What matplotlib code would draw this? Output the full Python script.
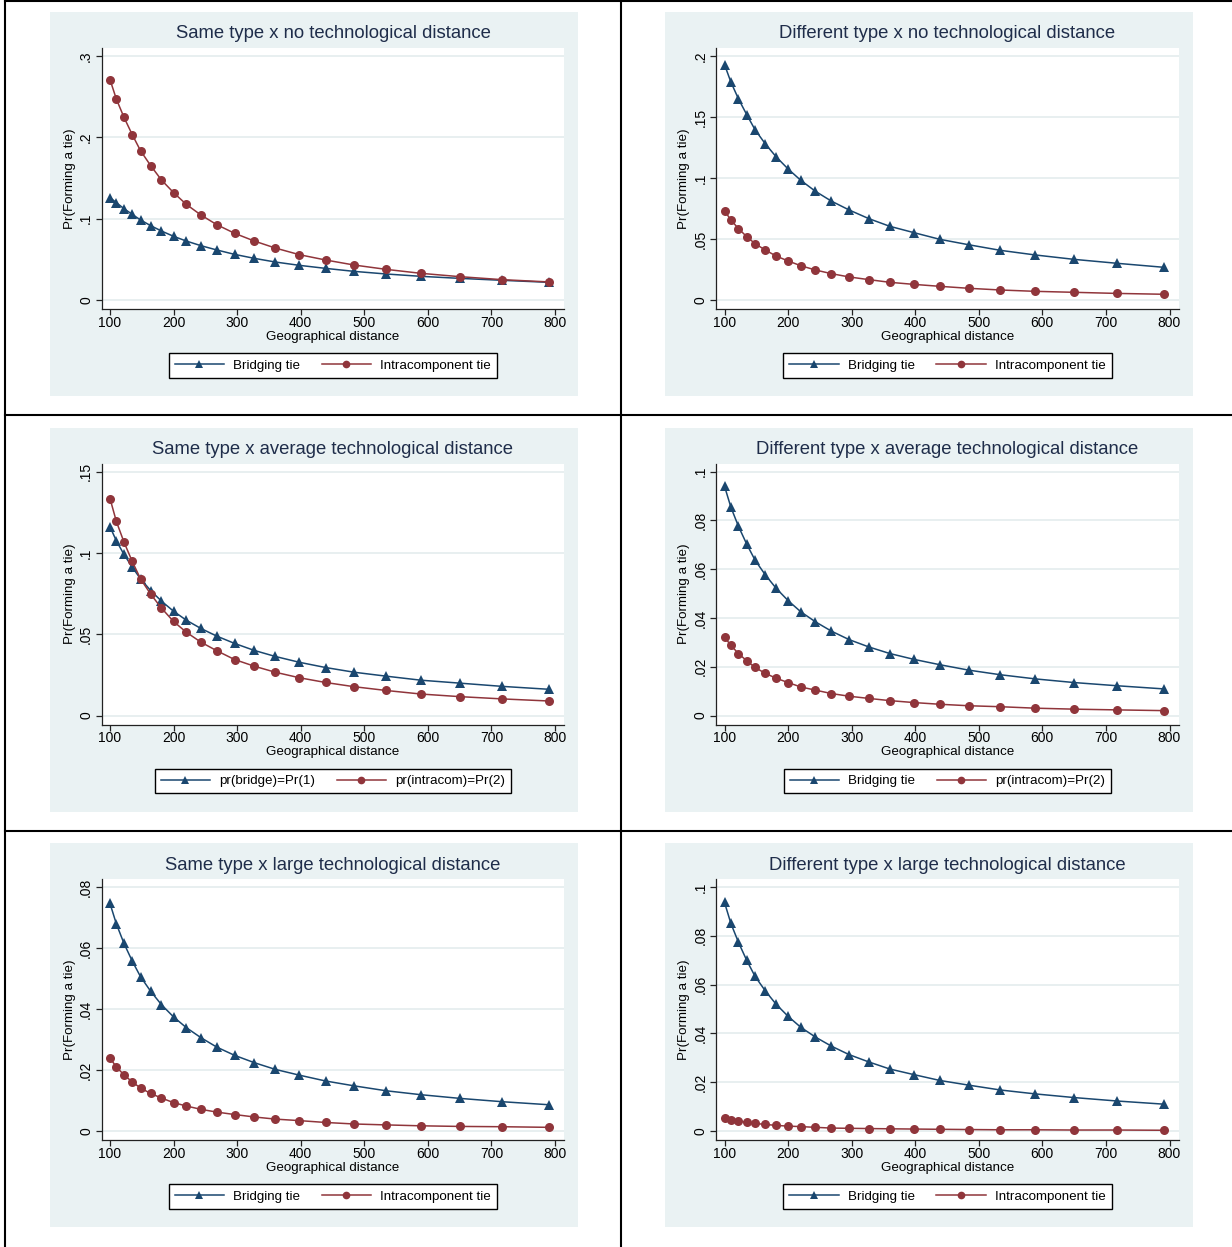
import matplotlib
matplotlib.use("Agg")
import matplotlib.pyplot as plt
from matplotlib.patches import Rectangle
from matplotlib.lines import Line2D

plt.rcParams['font.family'] = ['Liberation Sans', 'DejaVu Sans']

# geographical distance (x) shared by all panels
dist = [100, 110, 122, 135, 148, 164, 181, 200, 220, 243, 268, 296, 327, 360,
        398, 439, 484, 534, 589, 650, 717, 791]

# Pr(forming a tie)
bridge_same_none = [0.126, 0.1197, 0.1123, 0.1053, 0.0984, 0.0914, 0.0848, 0.0783, 0.0725, 0.0668, 0.0615,
                    0.0561, 0.0512, 0.0467, 0.0426, 0.0389, 0.0352, 0.032, 0.0291, 0.0266, 0.0242, 0.0217]
intra_same_none = [0.271, 0.247, 0.2246, 0.2033, 0.1836, 0.1652, 0.1475, 0.132, 0.1176, 0.1045, 0.0926,
                   0.082, 0.0725, 0.0639, 0.0557, 0.0492, 0.043, 0.0377, 0.0328, 0.0287, 0.025, 0.0222]
bridge_diff_none = [0.193, 0.1787, 0.1648, 0.1519, 0.1396, 0.1281, 0.1175, 0.1074, 0.0981, 0.0891, 0.0811,
                    0.0738, 0.0667, 0.0604, 0.0552, 0.0497, 0.0453, 0.0407, 0.0369, 0.0333, 0.0301, 0.0268]
intra_diff_none = [0.0732, 0.0656, 0.0585, 0.0519, 0.0462, 0.041, 0.0361, 0.032, 0.0281, 0.0246, 0.0216,
                   0.0189, 0.0167, 0.0145, 0.0128, 0.0112, 0.0096, 0.0082, 0.0071, 0.0063, 0.0054, 0.0047]
bridge_same_avg = [0.116, 0.1074, 0.099, 0.0912, 0.084, 0.0768, 0.0703, 0.0641, 0.0586, 0.0535, 0.0488,
                   0.0443, 0.04, 0.0363, 0.0327, 0.0295, 0.0266, 0.0242, 0.0217, 0.0199, 0.0179, 0.0161]
intra_same_avg = [0.1334, 0.1193, 0.1066, 0.0947, 0.084, 0.0746, 0.066, 0.0578, 0.0512, 0.0451, 0.0398,
                  0.0344, 0.0303, 0.0266, 0.0232, 0.0203, 0.0177, 0.0154, 0.0132, 0.0116, 0.0102, 0.0089]
bridge_diff_avg = [0.094, 0.0854, 0.0775, 0.0702, 0.0637, 0.0577, 0.0522, 0.0471, 0.0425, 0.0384, 0.0346,
                   0.0311, 0.0281, 0.0254, 0.023, 0.0208, 0.0186, 0.0167, 0.015, 0.0135, 0.0122, 0.0109]
intra_diff_avg = [0.0322, 0.0287, 0.0254, 0.0224, 0.0197, 0.0173, 0.0153, 0.0135, 0.0117, 0.0104, 0.009,
                  0.0079, 0.007, 0.0061, 0.0053, 0.0046, 0.004, 0.0036, 0.003, 0.0026, 0.0023, 0.002]
bridge_same_large = [0.0746, 0.0679, 0.0615, 0.0557, 0.0506, 0.0458, 0.0414, 0.0374, 0.0339, 0.0306, 0.0275,
                     0.0248, 0.0224, 0.0202, 0.0183, 0.0164, 0.0148, 0.0132, 0.0119, 0.0107, 0.0096, 0.0086]
intra_same_large = [0.0239, 0.021, 0.0184, 0.0161, 0.0141, 0.0123, 0.0108, 0.0093, 0.0082, 0.0071, 0.0062,
                    0.0054, 0.0046, 0.0039, 0.0034, 0.0028, 0.0023, 0.002, 0.0017, 0.0015, 0.0014, 0.0012]
bridge_diff_large = [0.0937, 0.0851, 0.0773, 0.0699, 0.0634, 0.0575, 0.052, 0.047, 0.0425, 0.0385, 0.0348,
                     0.0313, 0.0283, 0.0254, 0.0231, 0.0207, 0.0188, 0.0168, 0.0152, 0.0137, 0.0123, 0.011]
intra_diff_large = [0.0053, 0.0046, 0.0041, 0.0036, 0.0031, 0.0027, 0.0023, 0.002, 0.0018, 0.0015, 0.0012,
                    0.0011, 0.001, 0.0009, 0.0008, 0.0007, 0.0006, 0.0005, 0.0005, 0.0004, 0.0004, 0.0003]

titles = ["Same type x no technological distance", "Different type x no technological distance",
          "Same type x average technological distance", "Different type x average technological distance",
          "Same type x large technological distance", "Different type x large technological distance"]
series = [(bridge_same_none, intra_same_none), (bridge_diff_none, intra_diff_none),
          (bridge_same_avg, intra_same_avg), (bridge_diff_avg, intra_diff_avg),
          (bridge_same_large, intra_same_large), (bridge_diff_large, intra_diff_large)]
yticks = [[0, 0.1, 0.2, 0.3], [0, 0.05, 0.1, 0.15, 0.2],
          [0, 0.05, 0.1, 0.15], [0, 0.02, 0.04, 0.06, 0.08, 0.1],
          [0, 0.02, 0.04, 0.06, 0.08], [0, 0.02, 0.04, 0.06, 0.08, 0.1]]
legend_labels = [("Bridging tie", "Intracomponent tie"), ("Bridging tie", "Intracomponent tie"),
                 ("pr(bridge)=Pr(1)", "pr(intracom)=Pr(2)"), ("Bridging tie", "pr(intracom)=Pr(2)"),
                 ("Bridging tie", "Intracomponent tie"), ("Bridging tie", "Intracomponent tie")]
xticks = [100, 200, 300, 400, 500, 600, 700, 800]

NAVY = '#1a476f'
MAROON = '#90353b'
BG = '#eaf2f3'
GRID = '#e4ecee'
TITLE = '#1f2d4a'

W, H = 1232, 1247
fig = plt.figure(figsize=(W / 100, H / 100), dpi=100)
fig.patch.set_facecolor('white')


def fx(px):
    return px / W


def fy(py):
    return 1 - py / H


def fmt(v):
    if v == 0:
        return "0"
    return ("%g" % v).lstrip("0")


for i, title in enumerate(titles):
    r, c = divmod(i, 2)
    dx = c * 614.5
    dy = r * 415.5
    fig.patches.append(Rectangle((fx(50 + dx), fy(396 + dy)), 528 / W, 384 / H,
                                 transform=fig.transFigure, facecolor=BG, edgecolor='none', zorder=-5))
    ax = fig.add_axes([fx(101.5 + dx), fy(309 + dy), 462.5 / W, 261 / H])
    ax.set_zorder(2)
    ax.set_facecolor('white')
    b, it = series[i]
    l1, = ax.plot(dist, b, color=NAVY, lw=1.1, marker='^', ms=7, mew=0, zorder=3)
    l2, = ax.plot(dist, it, color=MAROON, lw=1.1, marker='o', ms=6.5, mew=0, zorder=3)
    top = yticks[i][-1]
    ax.set_ylim(-top * 9 / 244, top * (1 + 8 / 244))
    ax.set_xlim(100 - 8.5 * 700 / 445, 800 + 9 * 700 / 445)
    ax.set_yticks(yticks[i])
    ax.set_yticklabels([fmt(t) for t in yticks[i]], rotation=90, va='center')
    ax.set_xticks(xticks)
    ax.set_xticklabels([str(t) for t in xticks])
    ax.tick_params(labelsize=10, length=4, width=0.9, color='#222222', pad=2)
    ax.tick_params(axis='x', pad=0.8)
    ax.grid(axis='y', color=GRID, lw=1.2)
    ax.set_axisbelow(True)
    for s in ('top', 'right'):
        ax.spines[s].set_visible(False)
    for s in ('left', 'bottom'):
        ax.spines[s].set_color('#222222')
        ax.spines[s].set_linewidth(0.9)

    fig.text(fx(333 + dx), fy(34 + dy), title, ha='center', va='center', fontsize=13.3, color=TITLE)
    fig.text(fx(333 + dx), fy(337 + dy), "Geographical distance", ha='center', va='center', fontsize=9.6)
    fig.text(fx(70 + dx), fy(178.5 + dy), "Pr(Forming a tie)", ha='center', va='center',
             rotation=90, fontsize=9.6)
    leg = ax.legend([l1, l2], legend_labels[i], ncol=2, loc='center',
                    bbox_to_anchor=(fx(333 + dx), fy(365.5 + dy)), bbox_transform=fig.transFigure,
                    fontsize=9.6, frameon=True, fancybox=False, edgecolor='black', framealpha=1,
                    handlelength=3.7, handletextpad=0.7, columnspacing=1.6, borderpad=0.45,
                    numpoints=1, markerscale=0.85)
    leg.get_frame().set_linewidth(1.0)

# table frame lines around the panels
frame = dict(color='black', lw=1.5, transform=fig.transFigure)
fig.add_artist(Line2D([fx(5), fx(5)], [0, 1], **frame))
fig.add_artist(Line2D([fx(621), fx(621)], [0, 1], **frame))
fig.add_artist(Line2D([fx(5), 1], [fy(1), fy(1)], **frame))
fig.add_artist(Line2D([fx(5), 1], [fy(415), fy(415)], **frame))
fig.add_artist(Line2D([fx(5), 1], [fy(831), fy(831)], **frame))

fig.savefig("out.png", dpi=100)
